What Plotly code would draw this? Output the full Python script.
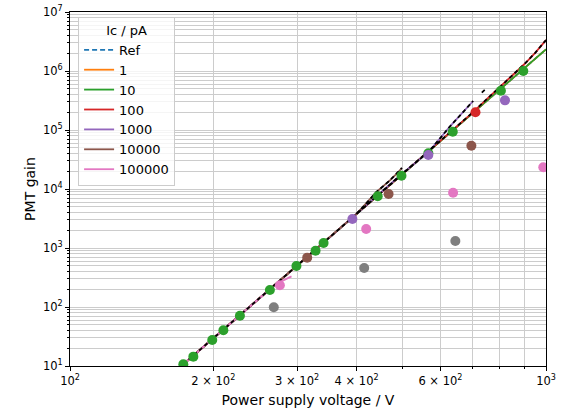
import plotly.graph_objects as go

# ---------------- data ----------------
ic_labels = ["1", "10", "100", "1000", "10000", "100000"]
colors = ["#ff7f0e", "#2ca02c", "#d62728", "#9467bd", "#8c564b", "#e377c2"]

# common gain curve (voltage in V, gain)
main_v = [173, 180, 200, 250, 300, 350, 400, 450, 500, 550, 600, 650, 700, 750, 800, 850, 900, 950, 1000]
main_g = [10.7, 14.1, 29.5, 141, 504, 1480, 3780, 8600, 18000, 35000, 64400, 110000, 190000, 310000, 480000, 730000, 1080000, 1600000, 2330000]

ref_v = main_v
ref_g = main_g

line_v = {
    "1": main_v,
    "10": main_v,
    "100": [173, 180, 200, 250, 300, 350, 400, 450, 500, 550, 600, 650, 700, 750, 800, 850, 900, 950, 1000],
    "1000": [173, 180, 200, 250, 300, 350, 400, 450, 500, 566, 628, 703],
    "10000": [173, 180, 200, 250, 300, 350, 400, 441, 470, 490, 498],
    "100000": [173, 180, 200, 250, 270, 280, 292],
}
line_g = {
    "1": main_g,
    "10": main_g,
    "100": [10.7, 14.1, 29.5, 141, 504, 1480, 3780, 8600, 18000, 35000, 64400, 112000, 195000, 330000, 530000, 830000, 1300000, 2050000, 3350000],
    "1000": [10.7, 14.1, 29.5, 141, 504, 1480, 3800, 8800, 18500, 42000, 114000, 310000],
    "10000": [10.7, 14.1, 29.5, 141, 504, 1480, 3780, 9000, 14000, 19500, 22700],
    "100000": [10.7, 14.1, 29.5, 141, 240, 280, 330],
}

# black dashed fit curves (no legend entry)
fit_main_v = line_v["100"]
fit_main_g = line_g["100"]
fit_purple_v = [400, 450, 500, 566, 628, 703]
fit_purple_g = [3800, 8800, 18500, 42000, 114000, 310000]
fit_tail_v = [733, 748]
fit_tail_g = [430000, 500000]
fit_brown_v = [400, 441, 470, 490, 498]
fit_brown_g = [3780, 9000, 14000, 19500, 22700]

# measured points
green_v = [173, 181.6, 199, 210, 227.5, 263, 299, 328, 341, 443, 497, 566, 637, 804, 896]
green_g = [10.7, 14.4, 27.6, 40.3, 71.3, 194, 495, 900, 1216, 7520, 16800, 40300, 93500, 463000, 1000000]
red_v = [711]
red_g = [200000]
purple_v = [392, 566, 820]
purple_g = [3100, 37700, 318000]
brown_v = [315, 467, 697]
brown_g = [686, 8220, 54200]
pink_v = [276, 419, 638, 987]
pink_g = [233, 2100, 8650, 23300]
gray_v = [268, 415, 645]
gray_g = [99, 458, 1316]

x_tickvals = [100, 200, 300, 400, 600, 1000]
x_ticktext = ["10<sup>2</sup>", "2 × 10<sup>2</sup>", "3 × 10<sup>2</sup>",
              "4 × 10<sup>2</sup>", "6 × 10<sup>2</sup>", "10<sup>3</sup>"]
x_minor = [500, 700, 800, 900]
y_tickvals = [10, 100, 1000, 10000, 100000, 1000000, 10000000]
y_ticktext = ["10<sup>%d</sup>" % k for k in range(1, 8)]
y_minor = [m * 10 ** k for k in range(1, 7) for m in range(2, 10)]

# ---------------- figure ----------------
fig = go.Figure()

fig.add_trace(go.Scatter(x=ref_v, y=ref_g, mode="lines", name="Ref",
                         line=dict(color="#1f77b4", width=1.8, dash="5px,3px")))
for lab, col in zip(ic_labels, colors):
    fig.add_trace(go.Scatter(x=line_v[lab], y=line_g[lab], mode="lines", name=lab,
                             line=dict(color=col, width=1.8)))

for fv, fg in [(fit_main_v, fit_main_g), (fit_purple_v, fit_purple_g),
               (fit_brown_v, fit_brown_g), (fit_tail_v, fit_tail_g)]:
    fig.add_trace(go.Scatter(x=fv, y=fg, mode="lines", showlegend=False,
                             line=dict(color="black", width=1.8, dash="4px,3px")))

for pv, pg, col in [(gray_v, gray_g, "#7f7f7f"), (pink_v, pink_g, "#e377c2"),
                    (brown_v, brown_g, "#8c564b"), (green_v, green_g, "#2ca02c"),
                    (purple_v, purple_g, "#9467bd"), (red_v, red_g, "#d62728")]:
    fig.add_trace(go.Scatter(x=pv, y=pg, mode="markers", showlegend=False,
                             marker=dict(color=col, size=10, line=dict(width=0))))

grid_col = "#cccccc"
fig.update_xaxes(type="log", range=[2, 3], showline=True, mirror=True, linecolor="black", linewidth=1,
                 ticks="outside", ticklen=4, tickcolor="black", tickvals=x_tickvals, ticktext=x_ticktext,
                 showgrid=True, gridcolor=grid_col, gridwidth=1, zeroline=False, automargin=False,
                 ticklabeloverflow="allow",
                 minor=dict(tickvals=x_minor, ticks="outside", ticklen=2, tickcolor="black",
                            showgrid=True, gridcolor=grid_col, gridwidth=1),
                 title=dict(text="Power supply voltage / V", standoff=8),
                 tickfont=dict(size=11.5, color="black"))
fig.update_yaxes(type="log", range=[1, 7], showline=True, mirror=True, linecolor="black", linewidth=1,
                 ticks="outside", ticklen=4, tickcolor="black", tickvals=y_tickvals, ticktext=y_ticktext,
                 showgrid=True, gridcolor=grid_col, gridwidth=1, zeroline=False, automargin=False,
                 ticklabeloverflow="allow",
                 minor=dict(tickvals=y_minor, ticks="outside", ticklen=2, tickcolor="black",
                            showgrid=True, gridcolor=grid_col, gridwidth=1),
                 title=dict(text="PMT gain", standoff=4),
                 tickfont=dict(size=11.5, color="black"))

fig.update_layout(
    width=563, height=410,
    margin=dict(l=70, r=17, t=12, b=44),
    paper_bgcolor="white", plot_bgcolor="white",
    font=dict(family="DejaVu Sans", size=11.5, color="black"),
    legend=dict(x=0.017, y=0.986, xanchor="left", yanchor="top",
                bgcolor="rgba(255,255,255,0.8)", bordercolor="#cccccc", borderwidth=1,
                title=dict(text="Ic / pA", side="top center", font=dict(size=13)),
                font=dict(size=13), itemwidth=30, tracegroupgap=0),
)

# remove the default 8px page margin so the figure fills the window exactly
fig.write_html("out.html", config={"displayModeBar": False},
               post_script="document.body.style.margin='0px';")
